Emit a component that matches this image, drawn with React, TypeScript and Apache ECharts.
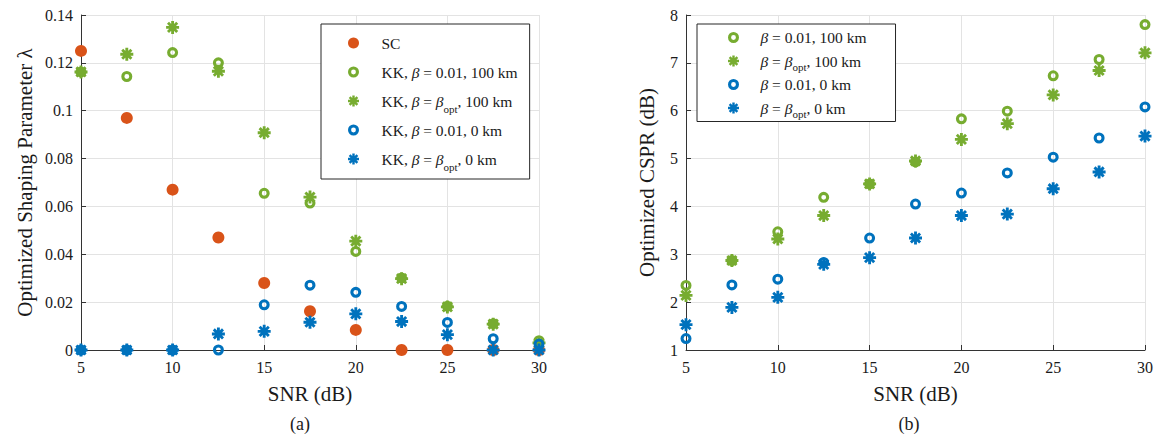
import React, { useEffect, useRef } from "react";
import * as echarts from "echarts";

// ---------- data ----------
const snr = [5, 7.5, 10, 12.5, 15, 17.5, 20, 22.5, 25, 27.5, 30];

// (a) Optimized shaping parameter lambda
const lamSC = [0.125, 0.097, 0.067, 0.047, 0.028, 0.0162, 0.0084, 0, 0, 0, 0];
const lamKK001_100 = [0.1162, 0.1143, 0.1243, 0.12, 0.0655, 0.0614, 0.0412, 0.0301, 0.0183, 0.011, 0.0039];
const lamKKopt_100 = [0.1162, 0.1236, 0.1348, 0.1165, 0.0908, 0.0639, 0.0455, 0.0298, 0.018, 0.0108, 0.003];
const lamKK001_0 = [0, 0, 0, 0, 0.0189, 0.0271, 0.0241, 0.0182, 0.0115, 0.0047, 0.0025];
const lamKKopt_0 = [0, 0, 0, 0.0067, 0.0078, 0.0116, 0.0151, 0.0119, 0.0064, 0, 0];

// (b) Optimized CSPR (dB)
const cspr001_100 = [2.35, 2.87, 3.47, 4.19, 4.47, 4.93, 5.83, 5.99, 6.73, 7.07, 7.8];
const csprOpt_100 = [2.14, 2.87, 3.32, 3.81, 4.47, 4.95, 5.4, 5.73, 6.33, 6.84, 7.21];
const cspr001_0 = [1.24, 2.36, 2.48, 2.83, 3.34, 4.05, 4.28, 4.7, 5.03, 5.43, 6.08];
const csprOpt_0 = [1.53, 1.89, 2.1, 2.79, 2.93, 3.34, 3.81, 3.84, 4.37, 4.72, 5.47];

const leftNames = [
  "SC",
  "KK, β = 0.01, 100 km",
  "KK, β = βopt, 100 km",
  "KK, β = 0.01, 0 km",
  "KK, β = βopt, 0 km",
];
const rightNames = ["β = 0.01, 100 km", "β = βopt, 100 km", "β = 0.01, 0 km", "β = βopt, 0 km"];

const richNames: Record<string, string> = {
  "SC": "SC",
  "KK, β = 0.01, 100 km": "KK, {it|β} = 0.01, 100 km",
  "KK, β = βopt, 100 km": "KK, {it|β} = {it|β}{sub|opt}, 100 km",
  "KK, β = 0.01, 0 km": "KK, {it|β} = 0.01, 0 km",
  "KK, β = βopt, 0 km": "KK, {it|β} = {it|β}{sub|opt}, 0 km",
  "β = 0.01, 100 km": "{it|β} = 0.01, 100 km",
  "β = βopt, 100 km": "{it|β} = {it|β}{sub|opt}, 100 km",
  "β = 0.01, 0 km": "{it|β} = 0.01, 0 km",
  "β = βopt, 0 km": "{it|β} = {it|β}{sub|opt}, 0 km",
};

// ---------- style ----------
const FONT = "Liberation Serif";
const ORANGE = "#D95319";
const GREEN = "#77AC30";
const BLUE = "#0072BD";
const AXIS = "#333333";
const GRID = "#e3e3e3";
const TXT = "#1a1a1a";

const STAR =
  "path://M100,61L0,61L0,39L100,39Z M39,100L39,0L61,0L61,100Z M77.58,93.13L6.87,22.42L22.42,6.87L93.13,77.58Z M6.87,77.58L77.58,6.87L93.13,22.42L22.42,93.13Z";
const RING =
  "path://M0,50A50,50,0,1,1,100,50A50,50,0,1,1,0,50Z M28,50A22,22,0,1,0,72,50A22,22,0,1,0,28,50Z";

const pts = (ys: number[]) => snr.map((x, i) => [x, ys[i]]);

function mkSeries(name: string, ys: number[], idx: number, kind: string, color: string) {
  const symbol = kind === "dot" ? "circle" : kind === "ring" ? RING : STAR;
  const size = kind === "dot" ? 12 : kind === "ring" ? 11 : 13;
  return {
    type: "scatter",
    name,
    xAxisIndex: idx,
    yAxisIndex: idx,
    data: pts(ys),
    symbol,
    symbolSize: size,
    clip: false,
    itemStyle: { color, opacity: 1 },
    emphasis: { disabled: true },
  };
}

function xAxisCfg(idx: number) {
  return {
    type: "value",
    gridIndex: idx,
    min: 5,
    max: 30,
    interval: 5,
    name: "SNR (dB)",
    nameLocation: "middle",
    nameGap: 33,
    nameTextStyle: { fontFamily: FONT, fontSize: 21, color: TXT },
    axisLine: { show: true, onZero: false, lineStyle: { color: AXIS, width: 1 } },
    axisTick: { show: true, inside: true, length: 5, lineStyle: { color: AXIS } },
    axisLabel: { fontFamily: FONT, fontSize: 16, color: TXT, margin: 9 },
    splitLine: { show: true, lineStyle: { color: GRID, width: 1 } },
  };
}

function yAxisCfg(idx: number, name: string, min: number, max: number, interval: number, gap: number) {
  return {
    type: "value",
    gridIndex: idx,
    min,
    max,
    interval,
    name,
    nameLocation: "middle",
    nameGap: gap,
    nameTextStyle: { fontFamily: FONT, fontSize: 21, color: TXT },
    axisLine: { show: true, onZero: false, lineStyle: { color: AXIS, width: 1 } },
    axisTick: { show: true, inside: true, length: 5, lineStyle: { color: AXIS } },
    axisLabel: { fontFamily: FONT, fontSize: 16, color: TXT, margin: 8 },
    splitLine: { show: true, lineStyle: { color: GRID, width: 1 } },
  };
}

function legendCfg(names: string[], left: number, lineH: number, subH: number, gap: number, itemW: number, padding: number[]) {
  return {
    orient: "vertical",
    left,
    top: 24,
    data: names,
    itemWidth: itemW,
    itemHeight: 11,
    itemGap: gap,
    padding,
    borderColor: "#262626",
    borderWidth: 1,
    backgroundColor: "#ffffff",
    selectedMode: false,
    formatter: (n: string) => richNames[n] || n,
    textStyle: {
      fontFamily: FONT,
      fontSize: 15.5,
      color: TXT,
      lineHeight: lineH,
      rich: {
        it: { fontFamily: FONT, fontSize: 15.5, fontStyle: "italic", color: TXT, lineHeight: lineH },
        sub: { fontFamily: FONT, fontSize: 11, color: TXT, lineHeight: subH, verticalAlign: "bottom" },
      },
    },
  };
}

export default function App() {
  const ref = useRef<HTMLDivElement>(null);
  useEffect(() => {
    if (!ref.current) return;
    const chart = echarts.init(ref.current, undefined, { renderer: "svg" });
    chart.setOption({
      animation: false,
      backgroundColor: "#ffffff",
      textStyle: { fontFamily: FONT },
      grid: [
        { left: 81, top: 15, width: 458, height: 335 },
        { left: 686, top: 15, width: 459, height: 335 },
      ],
      xAxis: [xAxisCfg(0), xAxisCfg(1)],
      yAxis: [
        yAxisCfg(0, "Optimized Shaping Parameter λ", 0, 0.14, 0.02, 46),
        yAxisCfg(1, "Optimized CSPR (dB)", 1, 8, 1, 29),
      ],
      legend: [
        legendCfg(leftNames, 321, 26, 10, 3, 46, [6, 12, 7, 27]),
        legendCfg(rightNames, 697, 23, 7, 0.5, 44, [2, 29, 2, 31]),
      ],
      graphic: [
        {
          type: "text",
          x: 300,
          y: 424,
          style: { text: "(a)", fontFamily: FONT, fontSize: 18, fill: TXT, align: "center", verticalAlign: "middle" },
        },
        {
          type: "text",
          x: 909,
          y: 424,
          style: { text: "(b)", fontFamily: FONT, fontSize: 18, fill: TXT, align: "center", verticalAlign: "middle" },
        },
      ],
      series: [
        mkSeries(leftNames[0], lamSC, 0, "dot", ORANGE),
        mkSeries(leftNames[1], lamKK001_100, 0, "ring", GREEN),
        mkSeries(leftNames[2], lamKKopt_100, 0, "star", GREEN),
        mkSeries(leftNames[3], lamKK001_0, 0, "ring", BLUE),
        mkSeries(leftNames[4], lamKKopt_0, 0, "star", BLUE),
        mkSeries(rightNames[0], cspr001_100, 1, "ring", GREEN),
        mkSeries(rightNames[1], csprOpt_100, 1, "star", GREEN),
        mkSeries(rightNames[2], cspr001_0, 1, "ring", BLUE),
        mkSeries(rightNames[3], csprOpt_0, 1, "star", BLUE),
      ],
    });
    return () => chart.dispose();
  }, []);
  return (
    <div
      ref={ref}
      style={{ position: "fixed", left: 0, top: 0, width: 1157, height: 434, background: "#fff" }}
    />
  );
}
